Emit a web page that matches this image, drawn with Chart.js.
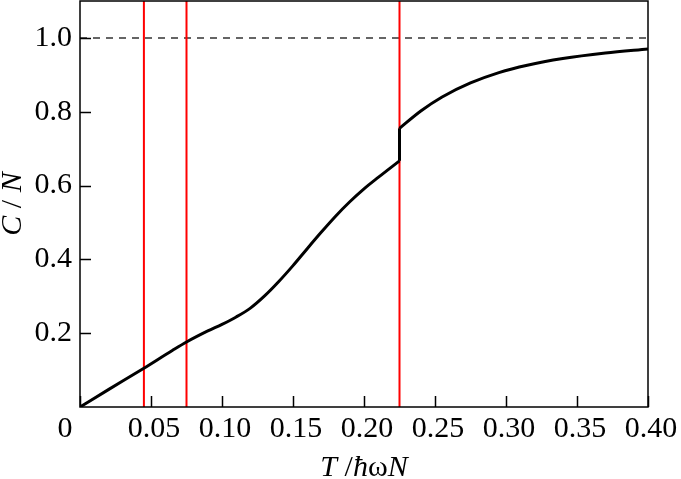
<!DOCTYPE html>
<html>
<head>
<meta charset="utf-8">
<script src="https://cdn.jsdelivr.net/npm/chart.js@4"></script>
<style>
  html, body { margin: 0; padding: 0; background: #fff; }
  canvas { display: block; }
</style>
</head>
<body>
<canvas id="heatChart" width="681" height="479"></canvas>
<script>
// C/N versus T/(hbar omega N), below and above the jump at T = 0.225
const lowTemps = [0, 0.02, 0.045, 0.065, 0.075, 0.09, 0.10, 0.11, 0.12, 0.13, 0.14,
  0.15, 0.16, 0.17, 0.18, 0.19, 0.20, 0.21, 0.225];
const lowHeat = [0, 0.047, 0.105, 0.153, 0.176, 0.206, 0.224, 0.244, 0.268, 0.301, 0.340,
  0.383, 0.429, 0.474, 0.517, 0.556, 0.591, 0.622, 0.667];
const highTemps = [0.225, 0.24, 0.255, 0.275, 0.295, 0.315, 0.34, 0.37, 0.40];
const highHeat = [0.755, 0.802, 0.840, 0.878, 0.906, 0.926, 0.944, 0.959, 0.970];
const markerTemps = [0.045, 0.075, 0.225];
const limitValue = 1.0;
const xTicks = [0, 0.05, 0.10, 0.15, 0.20, 0.25, 0.30, 0.35, 0.40];
const yTicks = [0.2, 0.4, 0.6, 0.8, 1.0];
const X_MAX = 0.40;
const Y_MAX = 1.1;

const SERIF = "'Liberation Serif', 'Times New Roman', serif";
const FONT_SIZE = 30;

function toPoints(xs, ys) {
  return xs.map((x, i) => ({ x: x, y: ys[i] }));
}

const curveStyle = {
  borderColor: "#000",
  borderWidth: 3,
  pointRadius: 0,
  showLine: true,
  fill: false,
  cubicInterpolationMode: "monotone",
  order: 0,
};

const datasets = [
  Object.assign({ label: "C/N low", data: toPoints(lowTemps, lowHeat) }, curveStyle),
  Object.assign({
    label: "jump",
    data: [
      { x: lowTemps[lowTemps.length - 1], y: lowHeat[lowHeat.length - 1] },
      { x: highTemps[0], y: highHeat[0] },
    ],
  }, curveStyle),
  Object.assign({ label: "C/N high", data: toPoints(highTemps, highHeat) }, curveStyle),
  {
    label: "limit",
    data: [{ x: 0, y: limitValue }, { x: X_MAX, y: limitValue }],
    borderColor: "#333",
    borderWidth: 1.5,
    borderDash: [7, 6],
    pointRadius: 0,
    showLine: true,
    order: 2,
  },
];

markerTemps.forEach((t) => {
  datasets.push({
    label: "T = " + t,
    data: [{ x: t, y: 0 }, { x: t, y: Y_MAX }],
    borderColor: "#ff0000",
    borderWidth: 2,
    pointRadius: 0,
    showLine: true,
    order: 1,
  });
});

// frame, inward ticks, axis titles and the origin label
const framePlugin = {
  id: "frame",
  afterDatasetsDraw(chart) {
    const { ctx, chartArea: a, scales } = chart;
    const tickLen = 11;
    ctx.save();
    ctx.strokeStyle = "#000";
    ctx.lineWidth = 1.5;
    ctx.strokeRect(a.left, a.top, a.right - a.left, a.bottom - a.top);

    ctx.beginPath();
    xTicks.forEach((v) => {
      const px = Math.round(scales.x.getPixelForValue(v)) + 0.5;
      ctx.moveTo(px, a.bottom);
      ctx.lineTo(px, a.bottom - tickLen);
    });
    yTicks.forEach((v) => {
      const py = Math.round(scales.y.getPixelForValue(v)) + 0.5;
      ctx.moveTo(a.left, py);
      ctx.lineTo(a.left + tickLen, py);
    });
    ctx.stroke();

    ctx.fillStyle = "#000";
    ctx.textBaseline = "alphabetic";

    // origin label
    ctx.font = FONT_SIZE + "px " + SERIF;
    ctx.textAlign = "center";
    ctx.fillText("0", 65, 437);

    // x title: T /ħωN
    const xParts = [
      ["T", true], [" /", false], ["ħ", true], ["ω", false], ["N", true],
    ];
    drawParts(ctx, xParts, (a.left + a.right) / 2, 476);

    // y title: C / N, rotated
    ctx.save();
    ctx.translate(21, (a.top + a.bottom) / 2);
    ctx.rotate(-Math.PI / 2);
    drawParts(ctx, [["C", true], [" / ", false], ["N", true]], 0, 0);
    ctx.restore();

    ctx.restore();
  },
};

function drawParts(ctx, parts, cx, y) {
  const fontFor = (italic) => (italic ? "italic " : "") + FONT_SIZE + "px " + SERIF;
  let total = 0;
  parts.forEach(([txt, it]) => {
    ctx.font = fontFor(it);
    total += ctx.measureText(txt).width;
  });
  let x = cx - total / 2;
  ctx.textAlign = "left";
  parts.forEach(([txt, it]) => {
    ctx.font = fontFor(it);
    ctx.fillText(txt, x, y);
    x += ctx.measureText(txt).width;
  });
}

new Chart(document.getElementById("heatChart").getContext("2d"), {
  type: "scatter",
  data: { datasets: datasets },
  options: {
    responsive: false,
    animation: false,
    devicePixelRatio: 1,
    layout: { padding: { top: 1, right: 33, left: 0, bottom: 0 } },
    plugins: {
      legend: { display: false },
      tooltip: { enabled: false },
    },
    scales: {
      x: {
        type: "linear",
        min: 0,
        max: X_MAX,
        afterBuildTicks: (scale) => {
          scale.ticks = xTicks.map((v) => ({ value: v }));
        },
        afterFit: (scale) => {
          scale.height = 72;
          scale.paddingLeft = 0;
          scale.paddingRight = 0;
        },
        grid: { display: false, drawTicks: false },
        border: { display: false },
        ticks: {
          color: "#000",
          padding: 4,
          labelOffset: 3,
          maxRotation: 0,
          autoSkip: false,
          font: { family: SERIF, size: FONT_SIZE },
          callback: (v) => (v === 0 ? "" : v.toFixed(2)),
        },
      },
      y: {
        type: "linear",
        min: 0,
        max: Y_MAX,
        afterBuildTicks: (scale) => {
          scale.ticks = yTicks.map((v) => ({ value: v }));
        },
        afterFit: (scale) => {
          scale.width = 80;
          scale.paddingTop = 0;
          scale.paddingBottom = 0;
        },
        grid: { display: false, drawTicks: false },
        border: { display: false },
        ticks: {
          color: "#000",
          padding: 8,
          font: { family: SERIF, size: FONT_SIZE },
          callback: (v) => v.toFixed(1),
        },
      },
    },
  },
  plugins: [framePlugin],
});
</script>
</body>
</html>
